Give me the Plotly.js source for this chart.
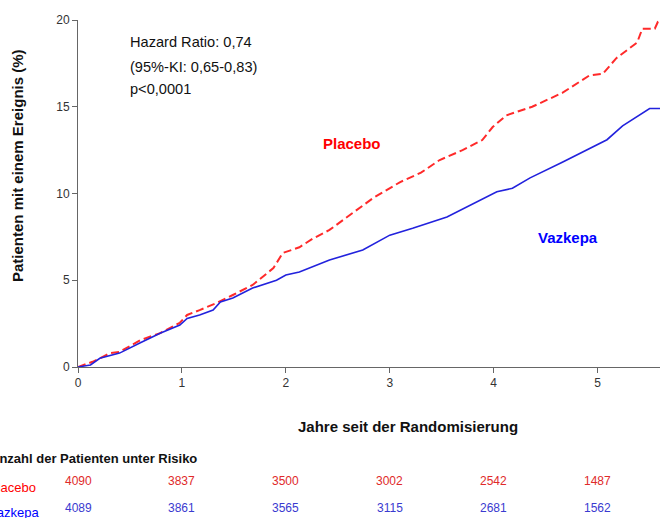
<!DOCTYPE html>
<html><head><meta charset="utf-8">
<script src="https://cdn.plot.ly/plotly-3.0.1.min.js"></script>
<style>html,body{margin:0;padding:0;background:#fff;}#chart{width:660px;height:518px;}</style>
</head><body><div id="chart"></div>
<script>
const placeboT = [0, 0.14, 0.31, 0.4, 0.6, 0.79, 0.98, 1.05, 1.17, 1.33, 1.49, 1.68, 1.88, 1.97, 2.13, 2.26, 2.42, 2.62, 2.84, 3.10, 3.3, 3.48, 3.7, 3.89, 3.99, 4.12, 4.37, 4.66, 4.92, 5.05, 5.18, 5.38, 5.43, 5.55, 5.58, 5.6];
const placeboY = [0, 0.3, 0.8, 0.87, 1.55, 1.95, 2.55, 3.0, 3.28, 3.68, 4.15, 4.73, 5.7, 6.57, 6.9, 7.4, 7.9, 8.8, 9.74, 10.66, 11.2, 11.93, 12.5, 13.08, 13.83, 14.5, 15.0, 15.8, 16.8, 16.9, 17.8, 18.7, 19.5, 19.5, 19.9, 20];
const vazkepaT = [0, 0.12, 0.21, 0.4, 0.6, 0.79, 0.98, 1.05, 1.17, 1.3, 1.37, 1.49, 1.68, 1.91, 2.0, 2.13, 2.42, 2.74, 3.0, 3.22, 3.55, 3.87, 4.03, 4.18, 4.35, 4.66, 4.89, 5.09, 5.24, 5.40, 5.5, 5.6];
const vazkepaY = [0, 0.12, 0.5, 0.8, 1.4, 1.95, 2.42, 2.8, 3.0, 3.28, 3.75, 3.98, 4.55, 5.0, 5.3, 5.48, 6.17, 6.74, 7.6, 8.0, 8.65, 9.6, 10.1, 10.3, 10.9, 11.8, 12.5, 13.1, 13.9, 14.5, 14.9, 14.9];
const riskYears = [0, 1, 2, 3, 4, 5];
const riskPlacebo = [4090, 3837, 3500, 3002, 2542, 1487];
const riskVazkepa = [4089, 3861, 3565, 3115, 2681, 1562];
const statsLines = ["Hazard Ratio: 0,74", "(95%-KI: 0,65-0,83)", "p<0,0001"];

const L = 78, T = 20, W = 582, H = 347;
const px = x => (x - L) / W;
const py = y => (T + H - y) / H;

const traces = [
  {x: placeboT, y: placeboY, mode: 'lines', line: {color: '#ff2a2a', width: 2, dash: '8px,4px'}, hoverinfo: 'skip'},
  {x: vazkepaT, y: vazkepaY, mode: 'lines', line: {color: '#2222dd', width: 1.6}, hoverinfo: 'skip'}
];

const font = 'Liberation Sans, Arial, sans-serif';
const ann = [];
function add(o) { ann.push(Object.assign({xref: 'paper', yref: 'paper', xanchor: 'center', yanchor: 'middle', showarrow: false, borderpad: 0}, o)); }
const statsY = [42, 67, 89];
statsLines.forEach((s, i) => add({x: px(129), y: py(statsY[i]), xanchor: 'left', text: s, font: {family: font, size: 14.6, color: '#111'}}));
add({x: px(352), y: py(143), text: '<b>Placebo</b>', font: {family: font, size: 15, color: '#ff0000'}});
add({x: px(568), y: py(238), text: '<b>Vazkepa</b>', font: {family: font, size: 15, color: '#0000ff'}});
add({x: px(408), y: py(426), text: '<b>Jahre seit der Randomisierung</b>', font: {family: font, size: 15, color: '#111'}});
add({x: px(17), y: py(166), textangle: -90, text: '<b>Patienten mit einem Ereignis (%)</b>', font: {family: font, size: 15, color: '#111'}});
add({x: px(198), y: py(458), xanchor: 'right', text: '<b>Anzahl der Patienten unter Risiko</b>', font: {family: font, size: 13, color: '#111'}});
add({x: px(37), y: py(487), xanchor: 'right', text: 'Placebo', font: {family: font, size: 13, color: '#ff0000'}});
add({x: px(40), y: py(512), xanchor: 'right', text: 'Vazkepa', font: {family: font, size: 13, color: '#0000ff'}});
riskYears.forEach((yr, i) => {
  add({xref: 'x', x: yr, y: py(481), text: String(riskPlacebo[i]), font: {family: font, size: 12, color: '#e02a2a'}});
  add({xref: 'x', x: yr, y: py(508), text: String(riskVazkepa[i]), font: {family: font, size: 12, color: '#3a3ad0'}});
});

const layout = {
  width: 660, height: 518,
  margin: {l: L, r: 0, t: T, b: 518 - T - H},
  paper_bgcolor: '#fff', plot_bgcolor: '#fff',
  showlegend: false,
  xaxis: {range: [0, 5.6], tickvals: [0,1,2,3,4,5], ticks: 'outside', ticklen: 5, tickcolor: '#666', showline: true, linecolor: '#666', linewidth: 1, showgrid: false, zeroline: false, tickfont: {family: font, size: 12, color: '#333'}, fixedrange: true},
  yaxis: {range: [0, 20], tickvals: [0,5,10,15,20], ticks: 'outside', ticklen: 5, tickcolor: '#666', showline: true, linecolor: '#666', linewidth: 1, showgrid: false, zeroline: false, tickfont: {family: font, size: 12, color: '#333'}, fixedrange: true},
  annotations: ann
};
Plotly.newPlot('chart', traces, layout, {displayModeBar: false, staticPlot: true});
</script></body></html>
